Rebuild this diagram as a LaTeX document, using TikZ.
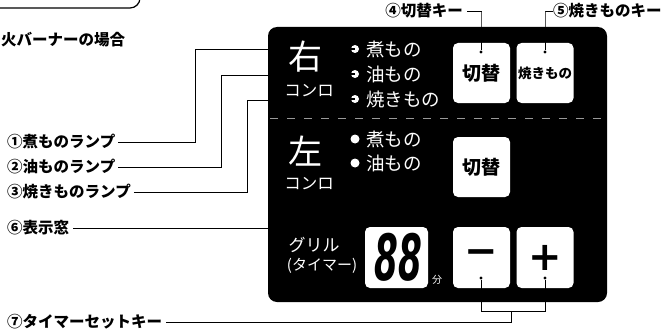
\documentclass[tikz,border=0pt]{standalone}
\usepackage{fontspec}
\newfontfamily\jp{Noto Sans CJK JP}
\newfontfamily\dv{DejaVu Sans}
\begin{document}
\begin{tikzpicture}[x=1pt,y=-1pt,
  lbl/.style={font=\jp\bfseries\fontsize{15.5}{15.5}\selectfont, inner sep=0pt, anchor=west},
  ldr/.style={line width=0.9pt},
  wtxt/.style={text=white, inner sep=0pt},
  btn/.style={fill=white, rounded corners=5pt, inner sep=0pt, minimum width=57pt, minimum height=60pt},
  bdot/.style={circle, fill=black, inner sep=0pt, minimum size=3.2pt},
  lampo/.style={circle, fill=white, inner sep=0pt, minimum size=8pt},
  lampf/.style={circle, fill=white, inner sep=0pt, minimum size=9pt}]
\useasboundingbox (0,0) rectangle (661,329);
\clip (0,0) rectangle (661,329);
\fill[white] (0,0) rectangle (661,329);
% top-left title box (cut off)
\draw[line width=1.2pt, rounded corners=10pt] (-10,-30) -- (-10,8) -- (140,8) -- (140,-30);
\node[lbl] (hdr) at (1,40) {火バーナーの場合};
% panel
\fill[black, rounded corners=9pt] (268,27) rectangle (607,302);
\draw[white!60!black, line width=0.6pt, dash pattern=on 8pt off 9pt] (270,118) -- (605,118);
% right burner
\node[wtxt, font=\jp\fontsize{34}{34}\selectfont] (migi) at (305,57) {右};
\node[wtxt, font=\jp\fontsize{16.5}{16.5}\selectfont] (k1) at (309,91) {コンロ};
\foreach \yy/\tt/\nn in {49/煮もの/ra, 74/油もの/rb, 99/焼きもの/rc}{
  \node[lampo] (\nn) at (355,\yy) {};
  \draw[black, line width=1.6pt] (\nn.west) -- (\nn.center);
  \node[wtxt, anchor=west, font=\jp\fontsize{18.5}{18.5}\selectfont] (\nn t) at (366,\yy) {\tt};
}
\node[btn, font=\jp\bfseries\fontsize{19}{19}\selectfont] (b1) at (481.5,73) {切替};
\node[btn, font=\jp\bfseries\fontsize{13.5}{13.5}\selectfont] (b2) at (545,73) {焼きもの};
% left burner
\node[wtxt, font=\jp\fontsize{34}{34}\selectfont] (hidari) at (305,151) {左};
\node[wtxt, font=\jp\fontsize{16.5}{16.5}\selectfont] (k2) at (309,184) {コンロ};
\foreach \yy/\tt/\nn in {139/煮もの/la, 163/油もの/lb}{
  \node[lampf] (\nn) at (355,\yy) {};
  \node[wtxt, anchor=west, font=\jp\fontsize{18.5}{18.5}\selectfont] (\nn t) at (366,\yy) {\tt};
}
\node[btn, font=\jp\bfseries\fontsize{19}{19}\selectfont] (b3) at (481.5,167) {切替};
% grill
\node[wtxt, font=\jp\fontsize{17}{17}\selectfont] (gr) at (314,245) {グリル};
\node[wtxt, font=\jp\fontsize{15}{15}\selectfont] (tm) at (322,266) {(タイマー)};
\node[btn, minimum width=63pt, minimum height=61pt] (dsp) at (396.5,257.5) {};
\node[inner sep=0pt, font=\dv\bfseries\itshape\fontsize{44}{44}\selectfont] (d88) at (398,257) {\scalebox{0.78}[1.45]{88}};
\node[wtxt, font=\jp\fontsize{10}{10}\selectfont] (fun) at (437,280) {分};
\node[btn, minimum height=61pt, font=\dv\bfseries\fontsize{40}{40}\selectfont] (bm) at (481.5,257.5) {−};
\node[btn, minimum height=61pt, font=\dv\bfseries\fontsize{40}{40}\selectfont] (bp) at (545,257.5) {+};
% dots
\node[bdot] (d1) at (481,52) {};
\node[bdot] (d2) at (545,52) {};
\node[bdot] (d3) at (481,278) {};
\node[bdot] (d4) at (545,278) {};
% labels
\node[lbl] (l1) at (7,142) {①煮ものランプ};
\node[lbl] (l2) at (7,167) {②油ものランプ};
\node[lbl] (l3) at (7,192) {③焼きものランプ};
\node[lbl] (l6) at (7,228) {⑥表示窓};
\node[lbl] (l7) at (7,322) {⑦タイマーセットキー};
\node[lbl, anchor=east] (l4) at (463,11) {④切替キー};
\node[lbl] (l5) at (553,11) {⑤焼きものキー};
% leader coordinates
\coordinate (p1) at (268,49);
\coordinate (p2) at (268,75);
\coordinate (p3) at (268,100);
\coordinate (p6) at (268,228);
\coordinate (c1) at (195,49);
\coordinate (c2) at (221,75);
\coordinate (c3) at (247,100);
\coordinate (t4) at (481,12);
\coordinate (t5) at (545,12);
\coordinate (bl) at (481,311);
\coordinate (br) at (545,311);
\coordinate (bc) at (511,311);
% leaders
\draw[ldr] ([xshift=3pt]l1.east) -| (c1) -- (p1);
\draw[ldr] ([xshift=3pt]l2.east) -| (c2) -- (p2);
\draw[ldr] ([xshift=3pt]l3.east) -| (c3) -- (p3);
\draw[ldr] ([xshift=4pt]l6.east) -- (p6);
\draw[ldr] ([xshift=4pt]l4.east) -| (t4) -- (d1);
\draw[ldr] (l5.west) -| (t5) -- (d2);
\draw[ldr] (d3) -- (bl) -- (br) -- (d4);
\draw[ldr] ([xshift=4pt]l7.east) -| (bc);
\end{tikzpicture}
\end{document}
